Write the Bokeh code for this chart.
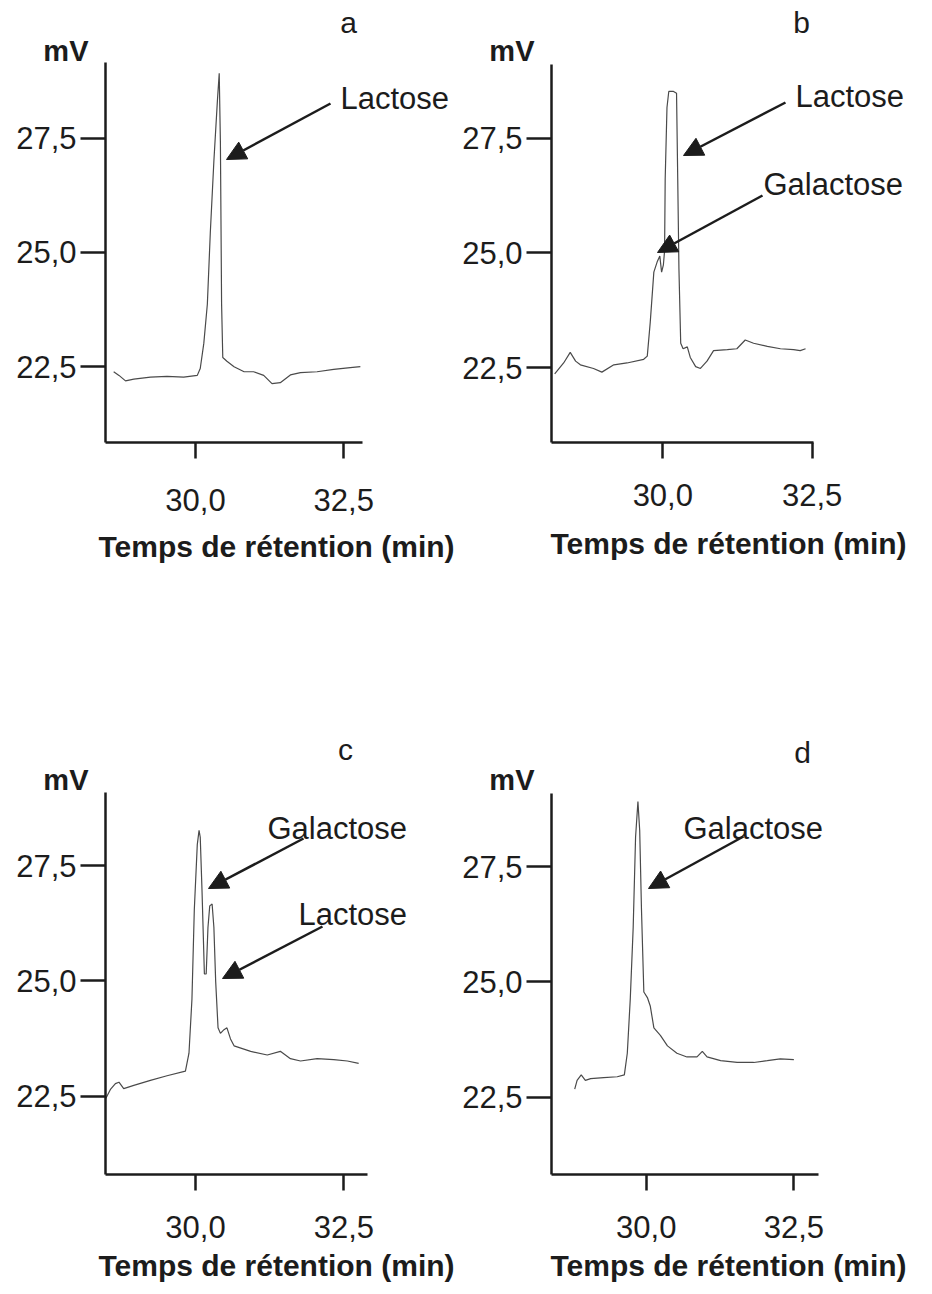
from bokeh.plotting import figure
from bokeh.layouts import gridplot
from bokeh.models import Range1d, FixedTicker, Label, Arrow, NormalHead, LinearAxis
from bokeh.embed import file_html
from bokeh.resources import INLINE

# ---------------- data ----------------
A_TIME = [28.62, 28.71, 28.82, 28.96, 29.24, 29.52, 29.80, 30.03, 30.08, 30.14, 30.20, 30.25, 30.31, 30.37,
          30.40, 30.42, 30.44, 30.46, 30.53, 30.65, 30.82, 30.98, 31.15, 31.29, 31.43, 31.60, 31.77, 32.05,
          32.33, 32.61, 32.78]
A_MV = [22.39, 22.31, 22.19, 22.23, 22.27, 22.29, 22.27, 22.31, 22.46, 23.01, 23.87, 25.44, 27.00, 28.33,
        28.92, 27.39, 23.87, 22.70, 22.62, 22.50, 22.39, 22.39, 22.31, 22.13, 22.15, 22.32, 22.37, 22.39,
        22.44, 22.48, 22.50]

B_TIME = [28.19, 28.34, 28.45, 28.54, 28.62, 28.84, 28.98, 29.18, 29.40, 29.68, 29.74, 29.79, 29.85, 29.91,
          29.95, 29.98, 30.01, 30.03, 30.04, 30.07, 30.10, 30.18, 30.23, 30.25, 30.27, 30.30, 30.34, 30.41,
          30.46, 30.55, 30.63, 30.74, 30.85, 31.08, 31.24, 31.38, 31.52, 31.75, 31.97, 32.19, 32.30, 32.39]
B_MV = [22.36, 22.60, 22.83, 22.64, 22.56, 22.48, 22.40, 22.56, 22.60, 22.68, 22.75, 23.49, 24.58, 24.82,
        24.93, 24.58, 24.74, 25.05, 26.61, 28.17, 28.52, 28.52, 28.48, 26.61, 24.66, 23.03, 22.91, 22.95,
        22.72, 22.52, 22.48, 22.64, 22.87, 22.89, 22.91, 23.10, 23.03, 22.96, 22.91, 22.89, 22.87, 22.91]

C_TIME = [28.49, 28.57, 28.65, 28.71, 28.79, 28.96, 29.24, 29.52, 29.83, 29.89, 29.94, 29.98, 30.03, 30.06,
          30.08, 30.11, 30.15, 30.18, 30.21, 30.24, 30.28, 30.31, 30.34, 30.38, 30.42, 30.48, 30.53, 30.59,
          30.65, 30.93, 31.21, 31.43, 31.60, 31.77, 32.05, 32.33, 32.56, 32.75]
C_MV = [22.45, 22.65, 22.77, 22.80, 22.66, 22.73, 22.84, 22.94, 23.04, 23.43, 24.60, 26.55, 27.96, 28.27,
        28.12, 26.95, 25.15, 25.15, 26.16, 26.63, 26.67, 26.16, 24.99, 23.98, 23.86, 23.94, 23.98, 23.74,
        23.59, 23.47, 23.39, 23.47, 23.31, 23.26, 23.31, 23.29, 23.26, 23.21]

D_TIME = [28.79, 28.83, 28.90, 28.97, 29.06, 29.28, 29.51, 29.63, 29.68, 29.73, 29.78, 29.82, 29.86, 29.89,
          29.92, 29.96, 30.02, 30.07, 30.13, 30.24, 30.36, 30.52, 30.69, 30.86, 30.95, 31.03, 31.26, 31.54,
          31.82, 32.05, 32.27, 32.50]
D_MV = [22.67, 22.86, 22.98, 22.86, 22.90, 22.92, 22.94, 22.98, 23.45, 24.62, 26.19, 28.14, 28.92, 28.29,
        26.58, 24.78, 24.66, 24.47, 24.00, 23.84, 23.61, 23.45, 23.37, 23.37, 23.49, 23.37, 23.29, 23.25,
        23.25, 23.29, 23.33, 23.31]

X_TICKS = [30.0, 32.5]
X_TICK_LABELS = ["30,0", "32,5"]
Y_TICKS = [22.5, 25.0, 27.5]
Y_TICK_LABELS = ["22,5", "25,0", "27,5"]
X_TITLE = "Temps de rétention (min)"
Y_TITLE = "mV"
PEAK_NAMES = {
    "a": ["Lactose"],
    "b": ["Lactose", "Galactose"],
    "c": ["Galactose", "Lactose"],
    "d": ["Galactose"],
}

# ---------------- layout (page pixels) ----------------
FONT = "Liberation Sans"
INK = "#1c1c1c"
TRACE = "#4a4a4a"
LABEL_DY = -9  # baseline correction for Label text

# cal = (page x of t=30, px per min, page y of v=25, px per mV)
# frame = (left, top, right, bottom) in page px; axis_end = (x-axis right end, y-axis top end)
PANELS = [
    dict(letter="a", t=A_TIME, v=A_MV, origin=(0, 0), fig=(457, 655),
         cal=(195.0, 59.3, 251.9, 45.72), frame=(105, 5, 455, 442), axis_end=(362, 62),
         standoff=30, title_standoff=16,
         letter_pos=(348, 31), mv_y=50, title_x=276,
         names=[(340, 107)], arrows=[((330, 103), (226, 159))]),
    dict(letter="b", t=B_TIME, v=B_MV, origin=(457, 0), fig=(471, 655),
         cal=(662.3, 59.73, 252.4, 45.86), frame=(551, 5, 925, 442), axis_end=(813, 64),
         standoff=25, title_standoff=18,
         letter_pos=(801, 31), mv_y=50, title_x=728,
         names=[(795, 105), (763, 193)], arrows=[((785, 102), (683, 155)), ((762, 195), (657, 252))]),
    dict(letter="c", t=C_TIME, v=C_MV, origin=(0, 655), fig=(457, 639),
         cal=(195.0, 59.33, 980.4, 46.04), frame=(105, 705, 455, 1174), axis_end=(367, 792),
         standoff=25, title_standoff=8,
         letter_pos=(345, 758), mv_y=779, title_x=276,
         names=[(267, 837), (298, 923)], arrows=[((303, 838), (208, 888)), ((322, 926), (222, 978))]),
    dict(letter="d", t=D_TIME, v=D_MV, origin=(457, 655), fig=(471, 639),
         cal=(645.7, 59.07, 981.4, 46.04), frame=(551, 705, 925, 1174), axis_end=(818, 793),
         standoff=25, title_standoff=8,
         letter_pos=(802, 761), mv_y=779, title_x=728,
         names=[(683, 837)], arrows=[((743, 836), (648, 888))]),
]


def tx(pn, px):
    x30, ppm, _, _ = pn["cal"]
    return 30.0 + (px - x30) / ppm


def vy(pn, py):
    _, _, y25, ppv = pn["cal"]
    return 25.0 + (y25 - py) / ppv


def style_axis(ax, size="31px", bold=False):
    ax.axis_line_color = INK
    ax.axis_line_width = 2.5
    ax.major_tick_line_color = INK
    ax.major_tick_line_width = 2.5
    ax.major_tick_in = 0
    ax.minor_tick_line_color = None
    ax.major_label_text_font = FONT
    ax.major_label_text_font_size = size
    ax.major_label_text_font_style = "bold" if bold else "normal"
    ax.major_label_text_color = INK


def make_panel(pn):
    W, H = pn["fig"]
    ox, oy = pn["origin"]
    fl, ft, fr, fb = pn["frame"]
    xr = (tx(pn, fl), tx(pn, fr))
    yr = (vy(pn, fb), vy(pn, ft))
    p = figure(width=W, height=H, x_range=Range1d(*xr), y_range=Range1d(*yr),
               output_backend="svg", toolbar_location=None,
               min_border_left=fl - ox, min_border_top=ft - oy,
               min_border_right=ox + W - fr, min_border_bottom=oy + H - fb)
    p.grid.visible = False
    p.outline_line_color = None
    p.background_fill_color = "white"
    p.border_fill_color = "white"

    p.line(pn["t"], pn["v"], line_color=TRACE, line_width=1.2)

    xa, ya = p.xaxis[0], p.yaxis[0]
    style_axis(xa)
    style_axis(ya)
    xa.bounds = (xr[0], tx(pn, pn["axis_end"][0]))
    ya.bounds = (yr[0], vy(pn, pn["axis_end"][1]))
    xa.ticker = FixedTicker(ticks=X_TICKS)
    xa.major_label_overrides = dict(zip(X_TICKS, X_TICK_LABELS))
    xa.major_tick_out = 16
    xa.major_label_standoff = pn["standoff"]
    ya.ticker = FixedTicker(ticks=Y_TICKS)
    ya.major_label_overrides = dict(zip(Y_TICKS, Y_TICK_LABELS))
    ya.major_tick_out = 25
    ya.major_label_standoff = 4

    # axis titles carried by label-only axes
    y_mv = vy(pn, pn["mv_y"])
    mv_axis = LinearAxis(ticker=FixedTicker(ticks=[y_mv]), major_label_overrides={y_mv: Y_TITLE})
    style_axis(mv_axis, size="29px", bold=True)
    mv_axis.axis_line_color = None
    mv_axis.major_tick_line_color = None
    mv_axis.major_tick_out = 0
    mv_axis.major_label_standoff = -75
    p.add_layout(mv_axis, "left")

    t_title = tx(pn, pn["title_x"])
    t_axis = LinearAxis(ticker=FixedTicker(ticks=[t_title]), major_label_overrides={t_title: X_TITLE})
    style_axis(t_axis, size="30px", bold=True)
    t_axis.axis_line_color = None
    t_axis.major_tick_line_color = None
    t_axis.major_tick_out = 0
    t_axis.major_label_standoff = pn["title_standoff"]
    p.add_layout(t_axis, "below")

    def lab(px, py, text, align, size="31px"):
        p.add_layout(Label(x=tx(pn, px), y=vy(pn, py + LABEL_DY), text=text,
                           text_font=FONT, text_font_size=size, text_color=INK,
                           text_align=align, text_baseline="alphabetic"))

    lab(*pn["letter_pos"], pn["letter"], "center", size="30px")
    for (px, py), name in zip(pn["names"], PEAK_NAMES[pn["letter"]]):
        lab(px, py, name, "left")
    for (s, e) in pn["arrows"]:
        p.add_layout(Arrow(x_start=tx(pn, s[0]), y_start=vy(pn, s[1]),
                           x_end=tx(pn, e[0]), y_end=vy(pn, e[1]),
                           line_color=INK, line_width=2.5,
                           end=NormalHead(size=19, fill_color=INK, line_color=INK, line_width=1)))
    return p


figs = [make_panel(pn) for pn in PANELS]
grid = gridplot([[figs[0], figs[1]], [figs[2], figs[3]]], toolbar_location=None)

open("out.html", "w").write(file_html(grid, INLINE))
